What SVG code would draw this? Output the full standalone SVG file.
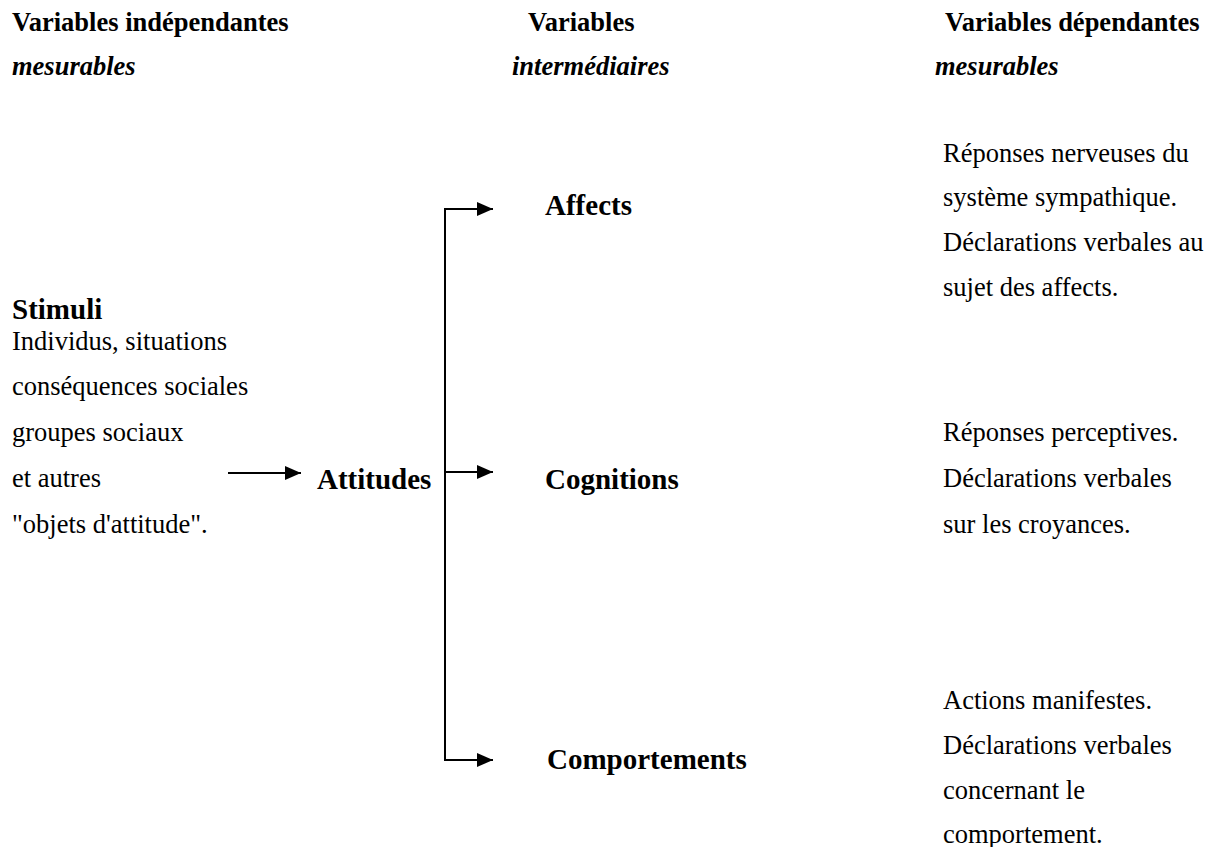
<svg xmlns="http://www.w3.org/2000/svg" width="1215" height="847" viewBox="0 0 1215 847">
<style>
text{font-family:"Liberation Serif","Times New Roman",serif;fill:#000}
.h{font-size:26.5px;font-weight:bold}
.hi{font-size:26.5px;font-weight:bold;font-style:italic}
.b{font-size:26.5px}
.n{font-size:29px;font-weight:bold}
.c{fill:none;stroke:#000;stroke-width:2}
</style>
<defs>
<marker id="ah" markerUnits="userSpaceOnUse" markerWidth="17" markerHeight="15" refX="16" refY="7" orient="auto">
<path d="M0,0 L16,7 L0,14 z" fill="#000"/>
</marker>
</defs>
<rect width="1215" height="847" fill="#fff"/>
<g id="headers">
<text class="h" x="12" y="31">Variables indépendantes</text>
<text class="hi" x="12" y="75">mesurables</text>
<text class="h" x="528" y="31">Variables</text>
<text class="hi" x="512" y="75">intermédiaires</text>
<text class="h" x="945" y="31">Variables dépendantes</text>
<text class="hi" x="935" y="75">mesurables</text>
</g>
<g id="stimuli">
<text class="n" x="12" y="319">Stimuli</text>
<text class="b" x="12" y="350">Individus, situations</text>
<text class="b" x="12" y="395">conséquences sociales</text>
<text class="b" x="12" y="441">groupes sociaux</text>
<text class="b" x="12" y="487">et autres</text>
<text class="b" x="12" y="533">"objets d'attitude".</text>
</g>
<g id="attitudes">
<text class="n" x="317" y="489">Attitudes</text>
</g>
<g id="affects">
<text class="n" x="545" y="215">Affects</text>
</g>
<g id="cognitions">
<text class="n" x="545" y="489">Cognitions</text>
</g>
<g id="comportements">
<text class="n" x="547" y="769">Comportements</text>
</g>
<g id="mesures-affects">
<text class="b" x="943" y="162">Réponses nerveuses du</text>
<text class="b" x="943" y="206">système sympathique.</text>
<text class="b" x="943" y="251">Déclarations verbales au</text>
<text class="b" x="943" y="296">sujet des affects.</text>
</g>
<g id="mesures-cognitions">
<text class="b" x="943" y="441">Réponses perceptives.</text>
<text class="b" x="943" y="487">Déclarations verbales</text>
<text class="b" x="943" y="533">sur les croyances.</text>
</g>
<g id="mesures-comportements">
<text class="b" x="943" y="709">Actions manifestes.</text>
<text class="b" x="943" y="754">Déclarations verbales</text>
<text class="b" x="943" y="799">concernant le</text>
<text class="b" x="943" y="843">comportement.</text>
</g>
<g id="connectors">
<path class="c" d="M228,473 H301" marker-end="url(#ah)"/>
<path class="c" d="M445,208 V760"/>
<path class="c" d="M444,209 H493" marker-end="url(#ah)"/>
<path class="c" d="M445,472 H493" marker-end="url(#ah)"/>
<path class="c" d="M444,760 H493" marker-end="url(#ah)"/>
</g>
</svg>
